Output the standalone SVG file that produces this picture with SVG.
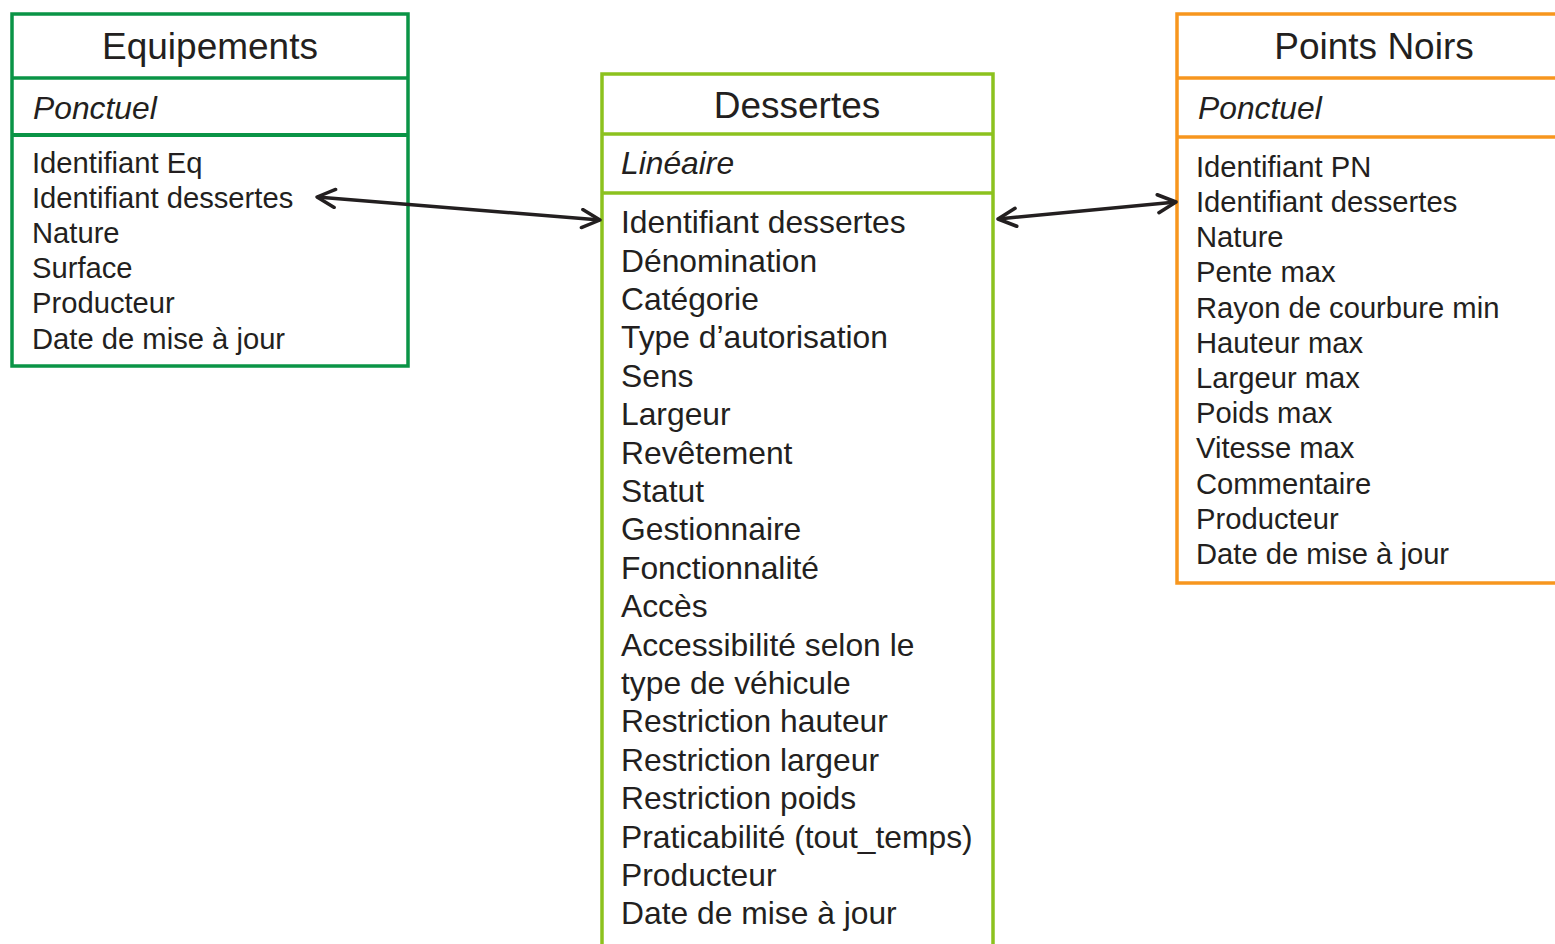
<svg xmlns="http://www.w3.org/2000/svg" width="1555" height="944" viewBox="0 0 1555 944">
<style>
text{font-family:"Liberation Sans",Arial,sans-serif;fill:#231F20}
.t{font-size:37px;text-anchor:middle}
.s{font-size:31.8px;font-style:italic}
.i{font-size:29.2px}
.d{font-size:31.8px}
.box{fill:#fff;stroke-width:3.5}
.eq{stroke:#0A9446}
.de{stroke:#8CC21E}
.pn{stroke:#F7961E}
.conn{stroke:#231F20;stroke-width:3.5;fill:none}
</style>
<defs>
<marker id="ah" viewBox="0 0 22 22" refX="20" refY="11" markerWidth="22" markerHeight="22" markerUnits="userSpaceOnUse" orient="auto-start-reverse">
<path d="M2,2 L20,11 L2,20" fill="none" stroke="#231F20" stroke-width="3.5" stroke-linecap="round" stroke-linejoin="round"/>
</marker>
</defs>
<rect width="1555" height="944" fill="#fff"/>
<g id="equipements">
<rect class="box eq" x="12" y="14" width="396" height="352"/>
<line class="eq" x1="12" y1="78" x2="408" y2="78" stroke-width="3.5"/>
<line class="eq" x1="12" y1="135" x2="408" y2="135" stroke-width="4"/>
<text class="t" x="210" y="59">Equipements</text>
<text class="s" x="33" y="119">Ponctuel</text>
<text class="i" x="32" y="173">Identifiant Eq</text>
<text class="i" x="32" y="208">Identifiant dessertes</text>
<text class="i" x="32" y="243">Nature</text>
<text class="i" x="32" y="278">Surface</text>
<text class="i" x="32" y="313">Producteur</text>
<text class="i" x="32" y="349">Date de mise à jour</text>
</g>
<g id="dessertes">
<rect class="box de" x="602" y="74" width="391" height="880"/>
<line class="de" x1="602" y1="134" x2="993" y2="134" stroke-width="3.5"/>
<line class="de" x1="602" y1="193" x2="993" y2="193" stroke-width="3.5"/>
<text class="t" x="797" y="118">Dessertes</text>
<text class="s" x="621" y="174">Linéaire</text>
<text class="d" x="621" y="233">Identifiant dessertes</text>
<text class="d" x="621" y="272">Dénomination</text>
<text class="d" x="621" y="310">Catégorie</text>
<text class="d" x="621" y="348">Type d’autorisation</text>
<text class="d" x="621" y="387">Sens</text>
<text class="d" x="621" y="425">Largeur</text>
<text class="d" x="621" y="464">Revêtement</text>
<text class="d" x="621" y="502">Statut</text>
<text class="d" x="621" y="540">Gestionnaire</text>
<text class="d" x="621" y="579">Fonctionnalité</text>
<text class="d" x="621" y="617">Accès</text>
<text class="d" x="621" y="656">Accessibilité selon le</text>
<text class="d" x="621" y="694">type de véhicule</text>
<text class="d" x="621" y="732">Restriction hauteur</text>
<text class="d" x="621" y="771">Restriction largeur</text>
<text class="d" x="621" y="809">Restriction poids</text>
<text class="d" x="621" y="848">Praticabilité (tout_temps)</text>
<text class="d" x="621" y="886">Producteur</text>
<text class="d" x="621" y="924">Date de mise à jour</text>
</g>
<g id="points-noirs">
<rect class="box pn" x="1177" y="14" width="400" height="569"/>
<line class="pn" x1="1177" y1="78" x2="1577" y2="78" stroke-width="3.5"/>
<line class="pn" x1="1177" y1="137" x2="1577" y2="137" stroke-width="3.5"/>
<text class="t" x="1374" y="59">Points Noirs</text>
<text class="s" x="1198" y="119">Ponctuel</text>
<text class="i" x="1196" y="177">Identifiant PN</text>
<text class="i" x="1196" y="212">Identifiant dessertes</text>
<text class="i" x="1196" y="247">Nature</text>
<text class="i" x="1196" y="282">Pente max</text>
<text class="i" x="1196" y="318">Rayon de courbure min</text>
<text class="i" x="1196" y="353">Hauteur max</text>
<text class="i" x="1196" y="388">Largeur max</text>
<text class="i" x="1196" y="423">Poids max</text>
<text class="i" x="1196" y="458">Vitesse max</text>
<text class="i" x="1196" y="494">Commentaire</text>
<text class="i" x="1196" y="529">Producteur</text>
<text class="i" x="1196" y="564">Date de mise à jour</text>
</g>
<g id="connectors">
<line class="conn" x1="317" y1="197" x2="600" y2="220" marker-start="url(#ah)" marker-end="url(#ah)"/>
<line class="conn" x1="998" y1="219" x2="1176" y2="202" marker-start="url(#ah)" marker-end="url(#ah)"/>
</g>
</svg>
